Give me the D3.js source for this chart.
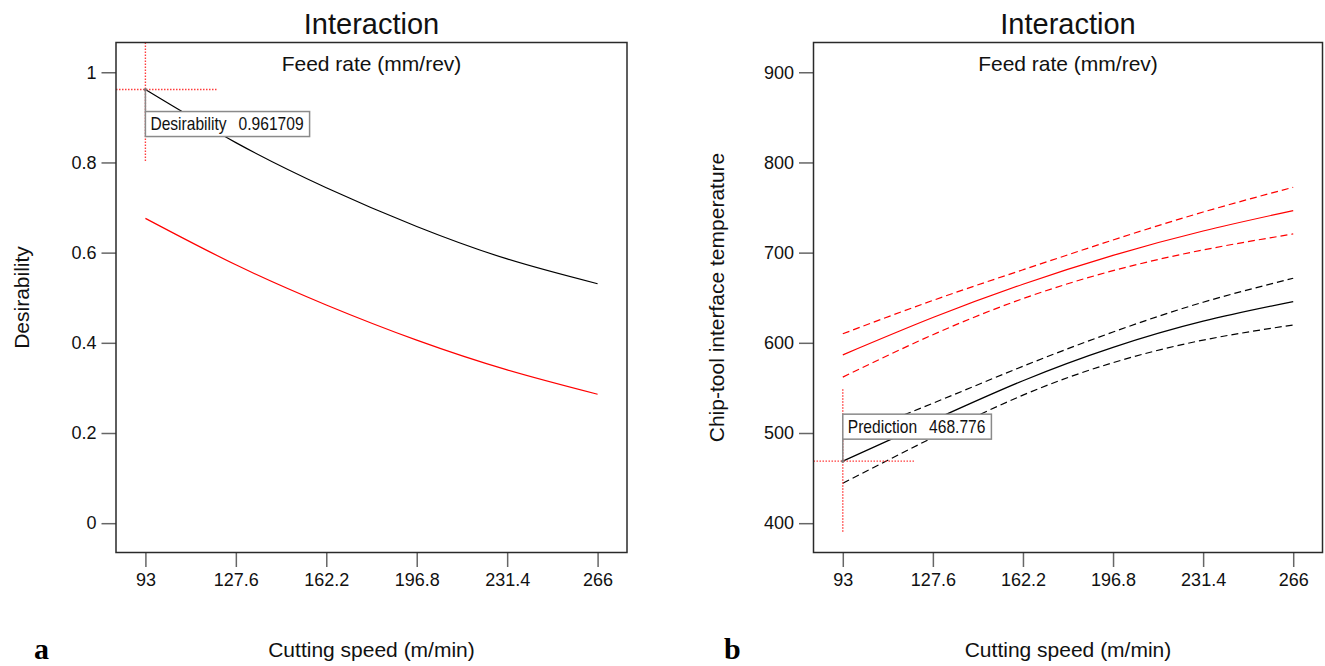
<!DOCTYPE html>
<html>
<head>
<meta charset="utf-8">
<script src="https://cdn.jsdelivr.net/npm/d3@7/dist/d3.min.js"></script>
<style>
  html, body { margin: 0; padding: 0; background: #fff; }
  svg { display: block; font-family: Arial, "Liberation Sans", sans-serif; }
</style>
</head>
<body>
<svg id="chart" width="1325" height="666"></svg>
<script>
// Cutting speed levels (m/min)
const speedTicks = [93, 127.6, 162.2, 196.8, 231.4, 266];

// Panel a: composite desirability for the two feed-rate levels
const desirFeed1 = [0.961709, 0.844, 0.744, 0.658, 0.586, 0.531];
const desirFeed2 = [0.676, 0.573, 0.484, 0.406, 0.340, 0.286];
const desirTicks = [0, 0.2, 0.4, 0.6, 0.8, 1];

// Panel b: predicted chip-tool interface temperature with confidence band
const tempFeed1 = [468.776, 514, 558, 595, 624, 645.7];
const tempFeed1Upper = [493.3, 533, 574, 612, 645, 671.6];
const tempFeed1Lower = [444.3, 495, 542, 578, 603, 619.8];
const tempFeed2 = [586.6, 628, 665, 697, 724, 746.6];
const tempFeed2Upper = [610, 647, 681, 714, 745, 772.5];
const tempFeed2Lower = [562, 609, 649, 680, 703, 720.7];
const tempTicks = [400, 500, 600, 700, 800, 900];

const svg = d3.select("#chart");
const FONT = 'Arial, "Liberation Sans", sans-serif';

function panel(opts) {
  const { x0, x1, y0, y1, yDomain, yTicks, yFmt, yTitle, yTitleX, series, marker, letter, letterX } = opts;
  const g = svg.append("g");
  const xPad = 11.25;
  const x = d3.scaleLinear().domain([speedTicks[0] - xPad, speedTicks[speedTicks.length - 1] + xPad]).range([x0, x1]);
  const y = d3.scaleLinear().domain(yDomain).range([y1, y0]);
  const cx = (x0 + x1) / 2;

  const clipId = "clip" + Math.round(x0);
  svg.append("clipPath").attr("id", clipId)
    .append("rect").attr("x", x0).attr("y", y0).attr("width", x1 - x0).attr("height", y1 - y0);

  // axes
  const xAxis = d3.axisBottom(x).tickValues(speedTicks).tickSize(14.5).tickPadding(6)
    .tickFormat(d => String(d));
  const gx = g.append("g").attr("transform", `translate(0,${y1})`).call(xAxis);
  const yAxis = d3.axisLeft(y).tickValues(yTicks).tickSize(14.5).tickPadding(5).tickFormat(yFmt);
  const gy = g.append("g").attr("transform", `translate(${x0},0)`).call(yAxis);
  [gx, gy].forEach(a => {
    a.select(".domain").remove();
    a.selectAll(".tick line").attr("stroke", "#666").attr("stroke-width", 1.5);
    a.selectAll(".tick text").attr("fill", "#111").style("font-size", "18px").style("font-family", FONT);
  });

  // lines
  const plot = g.append("g").attr("clip-path", `url(#${clipId})`);
  const line = d3.line().x((d, i) => x(speedTicks[i])).y(d => y(d)).curve(d3.curveNatural);
  series.forEach(s => {
    plot.append("path").datum(s.values)
      .attr("d", line)
      .attr("fill", "none")
      .attr("stroke", s.color)
      .attr("stroke-width", 1.2)
      .attr("stroke-dasharray", s.dashed ? "7,4" : null);
  });

  // crosshair at the first cutting speed
  const px = x(speedTicks[0]);
  const py = y(marker.value);
  const arm = 72;
  const ch = g.append("g").attr("stroke", "#ff3c3c").attr("stroke-width", 1.4).attr("stroke-dasharray", "1.5,1.5");
  ch.append("line").attr("x1", px).attr("x2", px).attr("y1", Math.max(y0, py - arm)).attr("y2", Math.min(y1, py + arm));
  ch.append("line").attr("y1", py).attr("y2", py).attr("x1", Math.max(x0, px - arm)).attr("x2", px + arm);

  // value box
  const boxH = 25;
  const boxTop = marker.below ? py + 22 : py - 22 - boxH;
  const bx = g.append("g");
  const t1 = bx.append("text").attr("x", px + 5).attr("y", boxTop + 18.5)
    .style("font-size", "19px").style("font-family", FONT).attr("fill", "#111").text(marker.label);
  const w1 = t1.node().getComputedTextLength() * 0.82;
  t1.attr("textLength", w1).attr("lengthAdjust", "spacingAndGlyphs");
  const t2 = bx.append("text").attr("x", px + 5 + w1 + 12).attr("y", boxTop + 18.5)
    .style("font-size", "19px").style("font-family", FONT).attr("fill", "#111").text(marker.text);
  const w2 = t2.node().getComputedTextLength() * 0.82;
  t2.attr("textLength", w2).attr("lengthAdjust", "spacingAndGlyphs");
  const boxW = 5 + w1 + 12 + w2 + 6;
  bx.insert("rect", "text").attr("x", px).attr("y", boxTop).attr("width", boxW).attr("height", boxH)
    .attr("fill", "#fff").attr("stroke", "#8a8a8a").attr("stroke-width", 1.5);
  g.append("line").attr("x1", px).attr("x2", px)
    .attr("y1", py).attr("y2", marker.below ? boxTop : boxTop + boxH)
    .attr("stroke", "#8a8a8a").attr("stroke-width", 1.5);
  g.append("circle").attr("cx", px).attr("cy", py).attr("r", 1.6).attr("fill", "#777");

  // frame
  g.append("rect").attr("x", x0).attr("y", y0).attr("width", x1 - x0).attr("height", y1 - y0)
    .attr("fill", "none").attr("stroke", "#2a2a2a").attr("stroke-width", 1.5);

  // titles
  g.append("text").attr("x", cx).attr("y", 34).attr("text-anchor", "middle")
    .style("font-size", "29px").style("font-family", FONT).attr("fill", "#111").text("Interaction");
  g.append("text").attr("x", cx).attr("y", 71).attr("text-anchor", "middle")
    .style("font-size", "21px").style("font-family", FONT).attr("fill", "#111").text("Feed rate (mm/rev)");
  g.append("text").attr("x", cx).attr("y", 657).attr("text-anchor", "middle")
    .style("font-size", "21px").style("font-family", FONT).attr("fill", "#111").text("Cutting speed (m/min)");
  g.append("text").attr("transform", `translate(${yTitleX},${(y0 + y1) / 2}) rotate(-90)`)
    .attr("text-anchor", "middle")
    .style("font-size", "21px").style("font-family", FONT).attr("fill", "#111").text(yTitle);
  g.append("text").attr("x", letterX).attr("y", 659)
    .style("font-size", "30px").style("font-family", '"Liberation Serif", "Times New Roman", serif')
    .style("font-weight", "bold").attr("fill", "#000").text(letter);
}

panel({
  x0: 116, x1: 627, y0: 42.5, y1: 552.5,
  yDomain: [-0.065, 1.066], yTicks: desirTicks,
  yFmt: d => String(d),
  yTitle: "Desirability", yTitleX: 29,
  series: [
    { values: desirFeed1, color: "#000" },
    { values: desirFeed2, color: "#ff0000" }
  ],
  marker: { value: desirFeed1[0], label: "Desirability", text: String(desirFeed1[0]), below: true },
  letter: "a", letterX: 34
});

panel({
  x0: 813.5, x1: 1322.5, y0: 42.5, y1: 552.5,
  yDomain: [367.5, 933], yTicks: tempTicks,
  yFmt: d => String(d),
  yTitle: "Chip-tool interface temperature", yTitleX: 724,
  series: [
    { values: tempFeed2Upper, color: "#ff0000", dashed: true },
    { values: tempFeed2, color: "#ff0000" },
    { values: tempFeed2Lower, color: "#ff0000", dashed: true },
    { values: tempFeed1Upper, color: "#000", dashed: true },
    { values: tempFeed1, color: "#000" },
    { values: tempFeed1Lower, color: "#000", dashed: true }
  ],
  marker: { value: tempFeed1[0], label: "Prediction", text: String(tempFeed1[0]), below: false },
  letter: "b", letterX: 724
});
</script>
</body>
</html>
